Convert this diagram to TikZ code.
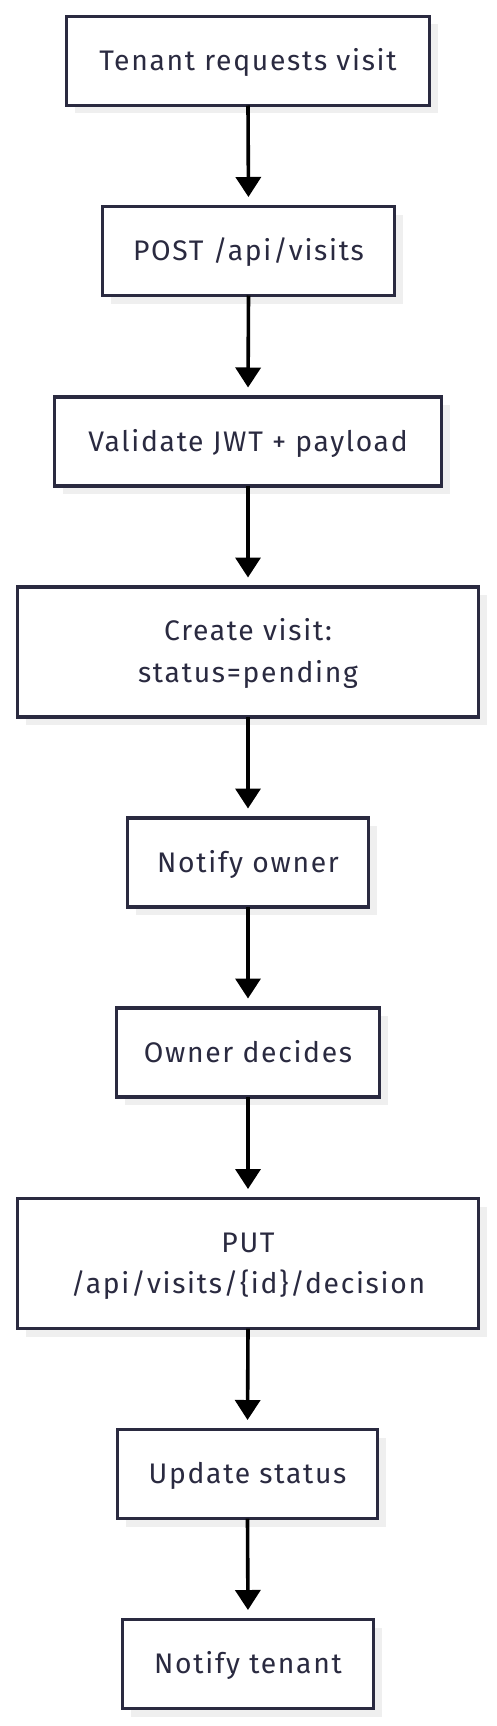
\documentclass[tikz,border=0pt]{standalone}
\usepackage{fontspec}
\setmainfont[LetterSpace=6]{Fira Sans}
\usetikzlibrary{arrows.meta,shadows}
\definecolor{boxline}{RGB}{42,42,64}
\definecolor{boxtext}{RGB}{42,42,64}
\definecolor{shadowgray}{RGB}{239,239,239}
\tikzset{
  basebox/.style={draw=boxline, line width=3.2pt, fill=white, inner sep=0pt, outer sep=0pt,
    text=boxtext, align=center,
    font=\fontsize{28.3}{41.5}\selectfont,
    drop shadow={shadow xshift=8pt, shadow yshift=-8pt, fill=shadowgray, opacity=1}},
  stepbox/.style={basebox, minimum height=89pt, text height=21pt, text depth=2pt},
  tallbox/.style={basebox, minimum height=130pt, text height=62pt, text depth=2pt},
  arr/.style={draw=black, line width=3.6pt, -{Triangle[width=25pt,length=20pt]}, shorten >=9.5pt}
}
\begin{document}
\begin{tikzpicture}[x=1pt,y=-1pt]
\useasboundingbox (0,0) rectangle (496,1726);
\node[stepbox, minimum width=363pt] (n1) at (248,61) {Tenant requests visit};
\node[stepbox, minimum width=292pt] (n2) at (248.5,251) {POST /api/visits};
\node[stepbox, minimum width=387pt] (n3) at (248,441.5) {Validate JWT + payload};
\node[tallbox, minimum width=461pt] (n4) at (248,652) {Create visit:\\status=pending};
\node[stepbox, minimum width=241pt] (n5) at (248,862.5) {Notify owner};
\node[stepbox, minimum width=263pt] (n6) at (248,1052.5) {Owner decides};
\node[tallbox, minimum width=461pt] (n7) at (248,1263.5) {PUT\\/api/visits/\{id\}/decision};
\node[stepbox, minimum width=260pt] (n8) at (247.5,1474) {Update status};
\node[stepbox, minimum width=251pt] (n9) at (248,1664) {Notify tenant};
\draw[arr] (n1.south) -- (n2.north);
\draw[arr] (n2.south) -- (n3.north);
\draw[arr] (n3.south) -- (n4.north);
\draw[arr] (n4.south) -- (n5.north);
\draw[arr] (n5.south) -- (n6.north);
\draw[arr] (n6.south) -- (n7.north);
\draw[arr] (n7.south) -- (n8.north);
\draw[arr] (n8.south) -- (n9.north);
\end{tikzpicture}
\end{document}
